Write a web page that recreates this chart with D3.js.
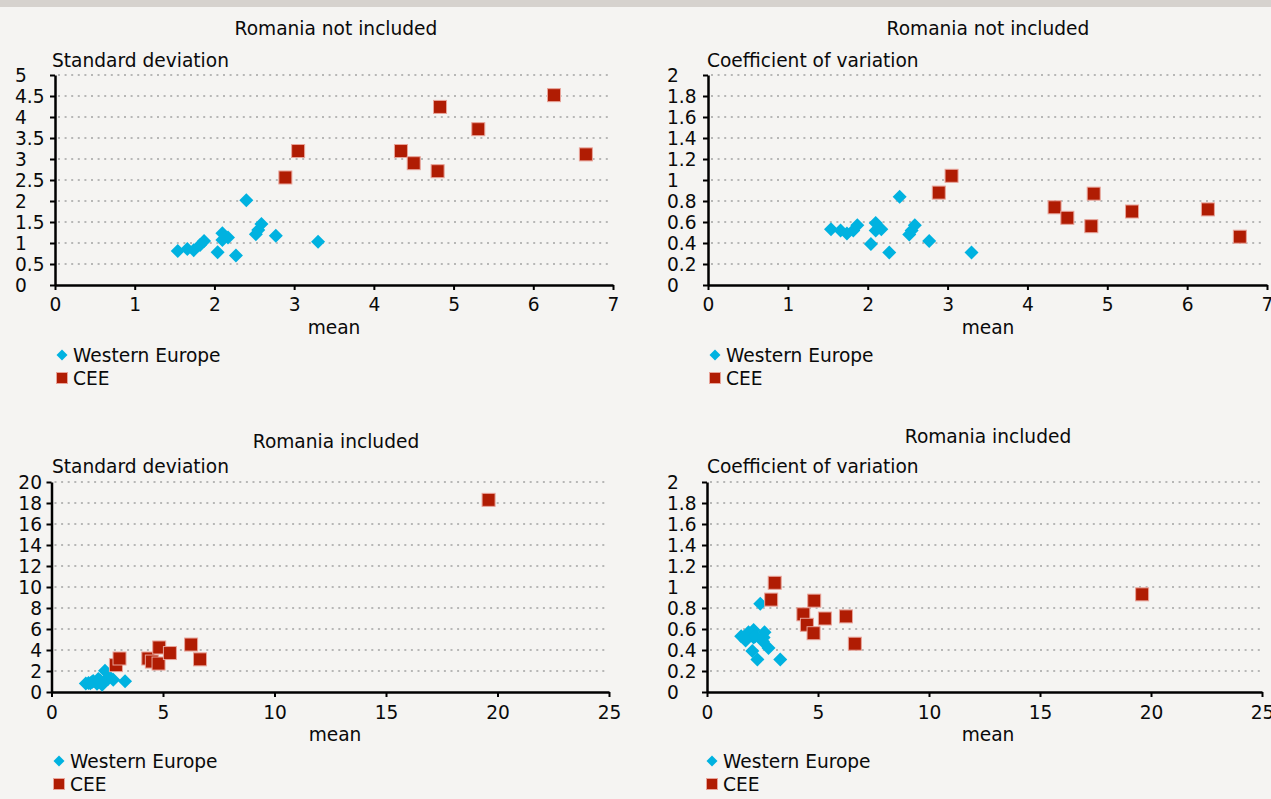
<!DOCTYPE html>
<html>
<head>
<meta charset="utf-8">
<script src="https://cdn.jsdelivr.net/npm/d3@7"></script>
<style>
  html, body { margin: 0; padding: 0; background: #f5f4f2; }
  svg { display: block; }
  text { font-family: "DejaVu Sans", sans-serif; fill: #0a0a0a; }
</style>
</head>
<body>
<svg id="chart" width="1271" height="799"></svg>
<script>
// ---- data ----
const seriesNames = ["Western Europe", "CEE"];
const weMean = [1.54, 1.66, 1.74, 1.82, 1.87, 2.04, 2.10, 2.10, 2.17, 2.27, 2.40, 2.52, 2.55, 2.59, 2.77, 3.30];
const weSD   = [0.81, 0.86, 0.83, 0.95, 1.05, 0.78, 1.23, 1.07, 1.13, 0.70, 2.02, 1.21, 1.31, 1.45, 1.17, 1.03];
const weCV   = [0.53, 0.52, 0.49, 0.52, 0.57, 0.39, 0.59, 0.52, 0.53, 0.31, 0.84, 0.48, 0.52, 0.57, 0.42, 0.31];
const ceeMean = [2.89, 3.05, 4.34, 4.50, 4.80, 4.83, 5.31, 6.26, 6.66];
const ceeSD   = [2.56, 3.19, 3.19, 2.90, 2.71, 4.24, 3.71, 4.52, 3.11];
const ceeCV   = [0.88, 1.04, 0.74, 0.64, 0.56, 0.87, 0.70, 0.72, 0.46];
const romaniaMean = [19.6];
const romaniaSD   = [18.3];
const romaniaCV   = [0.93];
const titles = ["Romania not included", "Romania not included", "Romania included", "Romania included"];
const yTitles = ["Standard deviation", "Coefficient of variation", "Standard deviation", "Coefficient of variation"];
const xTitle = "mean";
const xTicksSmall = [0, 1, 2, 3, 4, 5, 6, 7];
const xTicksLarge = [0, 5, 10, 15, 20, 25];
const yTicksSD5  = [0, 0.5, 1, 1.5, 2, 2.5, 3, 3.5, 4, 4.5, 5];
const yTicksCV2  = [0, 0.2, 0.4, 0.6, 0.8, 1, 1.2, 1.4, 1.6, 1.8, 2];
const yTicksSD20 = [0, 2, 4, 6, 8, 10, 12, 14, 16, 18, 20];

const BLUE = "#00b2e0", RED = "#b01c03", RED_EDGE = "#e8a49a";

const svg = d3.select("#chart");
svg.append("rect").attr("x", 0).attr("y", 0).attr("width", 1271).attr("height", 799).attr("fill", "#f5f4f2");
svg.append("rect").attr("x", 0).attr("y", 0).attr("width", 1271).attr("height", 7).attr("fill", "#d6d2ce");

const zip = (a, b) => a.map((v, i) => [v, b[i]]);

const panels = [
  { title: titles[0], yTitle: yTitles[0], xTicks: xTicksSmall, yTicks: yTicksSD5,
    we: zip(weMean, weSD), cee: zip(ceeMean, ceeSD),
    L: 55, R: 613, T: 75, B: 285, gridEnd: 612, yLabX: 15, yAnchor: "start",
    titleX: 336, titleY: 28, yTitleX: 52, yTitleY: 60, meanX: 334, meanY: 327, xLabY: 304, legX: 62, legY: 355 },
  { title: titles[1], yTitle: yTitles[1], xTicks: xTicksSmall, yTicks: yTicksCV2,
    we: zip(weMean, weCV), cee: zip(ceeMean, ceeCV),
    L: 708, R: 1267, T: 75, B: 285, gridEnd: 1264, yLabX: 667, yAnchor: "start",
    titleX: 988, titleY: 28, yTitleX: 707, yTitleY: 60, meanX: 988, meanY: 327, xLabY: 304, legX: 715, legY: 355 },
  { title: titles[2], yTitle: yTitles[2], xTicks: xTicksLarge, yTicks: yTicksSD20,
    we: zip(weMean, weSD), cee: zip(ceeMean.concat(romaniaMean), ceeSD.concat(romaniaSD)),
    L: 51.5, R: 609, T: 482, B: 692, gridEnd: 607, yLabX: 42, yAnchor: "end",
    titleX: 336, titleY: 441, yTitleX: 52, yTitleY: 466, meanX: 335, meanY: 734, xLabY: 712, legX: 59, legY: 761 },
  { title: titles[3], yTitle: yTitles[3], xTicks: xTicksLarge, yTicks: yTicksCV2,
    we: zip(weMean, weCV), cee: zip(ceeMean.concat(romaniaMean), ceeCV.concat(romaniaCV)),
    L: 707, R: 1262, T: 482, B: 692, gridEnd: 1262, yLabX: 667, yAnchor: "start",
    titleX: 988, titleY: 436, yTitleX: 707, yTitleY: 466, meanX: 988, meanY: 734, xLabY: 712, legX: 712, legY: 761 }
];

const FS = 18.6;

function diamond(g, cx, cy, r, fill) {
  g.append("path")
    .attr("d", `M${cx},${cy - r}L${cx + r},${cy}L${cx},${cy + r}L${cx - r},${cy}Z`)
    .attr("fill", fill);
}
function square(g, cx, cy, s, fill, edge) {
  g.append("rect").attr("x", cx - s / 2).attr("y", cy - s / 2).attr("width", s).attr("height", s)
    .attr("fill", fill).attr("stroke", edge).attr("stroke-width", 1);
}

panels.forEach(p => {
  const x = d3.scaleLinear().domain([p.xTicks[0], p.xTicks[p.xTicks.length - 1]]).range([p.L, p.R]);
  const y = d3.scaleLinear().domain([p.yTicks[0], p.yTicks[p.yTicks.length - 1]]).range([p.B, p.T]);
  const g = svg.append("g");

  // gridlines
  g.selectAll(".grid").data(p.yTicks.filter(t => t !== 0)).enter().append("line")
    .attr("x1", p.L + 3).attr("x2", p.gridEnd)
    .attr("y1", d => y(d)).attr("y2", d => y(d))
    .attr("stroke", "#a3a3a3").attr("stroke-width", 1.5).attr("stroke-dasharray", "2,4.6");

  // titles
  g.append("text").attr("x", p.titleX).attr("y", p.titleY).attr("text-anchor", "middle")
    .attr("dominant-baseline", "central").attr("font-size", FS).text(p.title);
  g.append("text").attr("x", p.yTitleX).attr("y", p.yTitleY).attr("text-anchor", "start")
    .attr("dominant-baseline", "central").attr("font-size", FS).text(p.yTitle);
  g.append("text").attr("x", p.meanX).attr("y", p.meanY).attr("text-anchor", "middle")
    .attr("dominant-baseline", "central").attr("font-size", FS).text(xTitle);

  // y axis
  const ya = g.append("g").attr("transform", `translate(${p.L},0)`)
    .call(d3.axisLeft(y).tickValues(p.yTicks).tickSize(5).tickSizeOuter(0).tickFormat(d => String(d)));
  ya.select(".domain").attr("stroke", "#000").attr("stroke-width", 2.5);
  ya.selectAll(".tick line").attr("stroke", "#000").attr("stroke-width", 2);
  ya.selectAll(".tick text").attr("x", p.yLabX - p.L).attr("text-anchor", p.yAnchor)
    .attr("dy", null).attr("dominant-baseline", "central")
    .attr("font-size", FS).attr("font-family", "DejaVu Sans, sans-serif").attr("fill", "#0a0a0a");

  // x axis
  const xa = g.append("g").attr("transform", `translate(0,${p.B})`)
    .call(d3.axisBottom(x).tickValues(p.xTicks).tickSize(5).tickSizeOuter(0).tickFormat(d => String(d)));
  xa.select(".domain").attr("stroke", "#000").attr("stroke-width", 2.5);
  xa.selectAll(".tick line").attr("stroke", "#000").attr("stroke-width", 2);
  xa.selectAll(".tick text").attr("y", p.xLabY - p.B).attr("dy", null).attr("dominant-baseline", "central")
    .attr("font-size", FS).attr("font-family", "DejaVu Sans, sans-serif").attr("fill", "#0a0a0a");

  // points
  const pts = g.append("g");
  p.we.forEach(d => diamond(pts, x(d[0]), y(d[1]), 7, BLUE));
  p.cee.forEach(d => square(pts, x(d[0]), y(d[1]), 13, RED, RED_EDGE));

  // legend
  const lg = g.append("g");
  diamond(lg, p.legX, p.legY, 5.5, BLUE);
  square(lg, p.legX, p.legY + 23, 11, RED, RED_EDGE);
  lg.append("text").attr("x", p.legX + 11).attr("y", p.legY).attr("dominant-baseline", "central")
    .attr("font-size", FS).text(seriesNames[0]);
  lg.append("text").attr("x", p.legX + 11).attr("y", p.legY + 23).attr("dominant-baseline", "central")
    .attr("font-size", FS).text(seriesNames[1]);
});
</script>
</body>
</html>
